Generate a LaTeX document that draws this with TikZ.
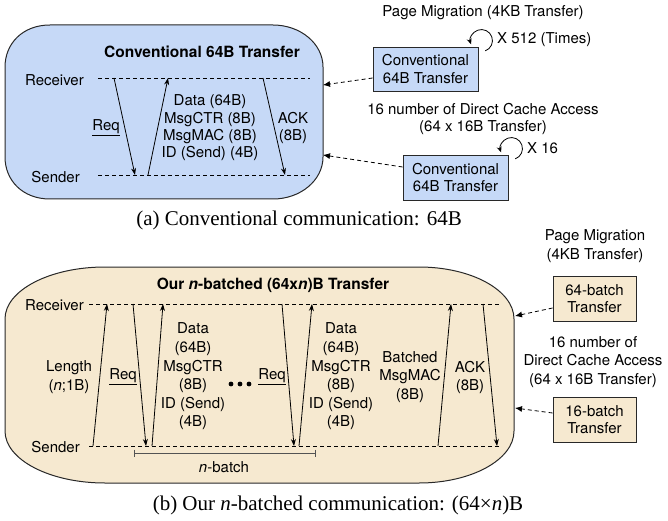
\documentclass[tikz,border=0pt]{standalone}
\usepackage{fontspec}
\setmainfont{Liberation Serif}
\setsansfont{TeX Gyre Heros}
\usetikzlibrary{arrows.meta,calc}

\definecolor{convblue}{RGB}{198,217,247}
\definecolor{batchtan}{RGB}{246,233,208}
\definecolor{edge}{RGB}{40,40,40}

\begin{document}
\begin{tikzpicture}[x=1pt,y=-1pt,
  lbl/.style={font=\sffamily\fontsize{15}{17.4}\selectfont, align=center, inner sep=0pt},
  lblb/.style={font=\sffamily\fontsize{15}{18.6}\selectfont, align=center, inner sep=0pt},
  ttl/.style={font=\sffamily\bfseries\fontsize{15.5}{17.4}\selectfont, inner sep=0pt},
  captext/.style={font=\fontsize{21}{24}\selectfont, inner sep=0pt},
  panel/.style={draw=edge, line width=1pt},
  lifeline/.style={dash pattern=on 4pt off 3pt, line width=0.8pt},
  msg/.style={-{Stealth[length=7pt,width=5pt]}, line width=0.8pt},
  loopmsg/.style={-{Stealth[length=6pt,width=5pt]}, line width=0.8pt},
  refarrow/.style={dash pattern=on 4pt off 3pt, -{Latex[length=7pt,width=6pt]}, line width=0.8pt},
  xferbox/.style={draw=edge, line width=0.9pt, align=center, inner sep=0pt,
    font=\sffamily\fontsize{15}{17.4}\selectfont},
]
\useasboundingbox (0,0) rectangle (668,521);

% ---------------- (a) conventional 64B transfer ----------------
\draw[panel, fill=convblue]
  (50,25) -- (273,25) .. controls (300.6,25) and (323,43.8) .. (323,67)
  -- (323,157) .. controls (323,180.2) and (300.6,199) .. (273,199)
  -- (50,199) .. controls (22.4,199) and (5,180.2) .. (5,157)
  -- (5,67) .. controls (5,43.8) and (22.4,25) .. cycle;

\node[ttl] (titleA) at (202,52) {Conventional 64B Transfer};
\node[lbl, anchor=east] (recvA) at (84,80) {Receiver};
\node[lbl, anchor=east] (sendA) at (80,177) {Sender};

\coordinate (rA0) at (98,78);  \coordinate (rA1) at (310,78);
\coordinate (sA0) at (98,175); \coordinate (sA1) at (310,175);
\draw[lifeline] (rA0) -- (rA1);
\draw[lifeline] (sA0) -- (sA1);

\coordinate (reqAt) at (114,78);  \coordinate (reqAb) at (135,175);
\coordinate (datAb) at (148,175); \coordinate (datAt) at (168,78);
\coordinate (ackAt) at (263,78);  \coordinate (ackAb) at (285,175);
\draw[msg] (reqAt) -- (reqAb);
\draw[msg] (datAb) -- (datAt);
\draw[msg] (ackAt) -- (ackAb);

\node[lbl] (reqA) at (106,128) {\underline{Req}};
\node[lbl] (dataA) at (210,128) {Data (64B)\\MsgCTR (8B)\\MsgMAC (8B)\\ID (Send) (4B)};
\node[lbl] (ackA) at (293,128) {ACK\\(8B)};

% right-hand side of (a)
\node[lbl] (pmA) at (483,13) {Page Migration (4KB Transfer)};
\node[xferbox, fill=convblue, minimum width=105pt, minimum height=44pt] (boxA1) at (425.5,69) {Conventional\\64B Transfer};
\draw[loopmsg] ($(boxA1.north east)+(3,-6)+(70:11)$) arc[start angle=70, end angle=-200, radius=11];
\node[lbl, anchor=west] (x512) at (497,40) {X 512 (Times)};

\node[lbl] (dcaA) at (483,119) {16 number of Direct Cache Access\\(64 x 16B Transfer)};
\node[xferbox, fill=convblue, minimum width=105pt, minimum height=45pt] (boxA2) at (455.5,177.5) {Conventional\\64B Transfer};
\draw[loopmsg] ($(boxA2.north east)+(3,-6)+(70:11)$) arc[start angle=70, end angle=-200, radius=11];
\node[lbl, anchor=west] (x16) at (527,148) {X 16};

\coordinate (inA1) at (323,85);
\coordinate (inA2) at (323,155);
\draw[refarrow] (boxA1.west |- 0,78) -- (inA1);
\draw[refarrow] (boxA2.west |- 0,167) -- (inA2);

\node[captext] (capA) at (299,220) {(a) Conventional communication: 64B};

% ---------------- (b) n-batched transfer ----------------
\draw[panel, fill=batchtan]
  (105,267) -- (419,267) .. controls (471.4,267) and (514,290.3) .. (514,319)
  -- (514,431) .. controls (514,459.7) and (471.4,483) .. (419,483)
  -- (105,483) .. controls (49.8,483) and (5,459.7) .. (5,431)
  -- (5,319) .. controls (5,290.3) and (49.8,267) .. cycle;

\node[ttl] (titleB) at (273,285) {Our \textit{n}-batched (64x\textit{n})B Transfer};
\node[lbl, anchor=east] (recvB) at (84,305) {Receiver};
\node[lbl, anchor=east] (sendB) at (80,447) {Sender};

\coordinate (rB0) at (89,304);  \coordinate (rB1) at (500,304);
\coordinate (sB0) at (89,446);  \coordinate (sB1) at (500,446);
\draw[lifeline] (rB0) -- (rB1);
\draw[lifeline] (sB0) -- (sB1);

\coordinate (lenb) at (93,446);   \coordinate (lent) at (107,304);
\coordinate (rq1t) at (133,304);  \coordinate (rq1b) at (146,446);
\coordinate (dt1b) at (152,446);  \coordinate (dt1t) at (163,304);
\coordinate (rq2t) at (282,304);  \coordinate (rq2b) at (294,446);
\coordinate (dt2b) at (299,446);  \coordinate (dt2t) at (312,304);
\coordinate (macb) at (438,446);  \coordinate (mact) at (451,304);
\coordinate (ackt) at (483,304);  \coordinate (ackb) at (497,446);
\draw[msg] (lenb) -- (lent);
\draw[msg] (rq1t) -- (rq1b);
\draw[msg] (dt1b) -- (dt1t);
\draw[msg] (rq2t) -- (rq2b);
\draw[msg] (dt2b) -- (dt2t);
\draw[msg] (macb) -- (mact);
\draw[msg] (ackt) -- (ackb);

\node[lblb] (lenB) at (69,377) {Length\\(\textit{n};1B)};
\node[lblb] (req1B) at (123,377) {\underline{Req}};
\node[lblb] (data1B) at (193,376.5) {Data\\(64B)\\MsgCTR\\(8B)\\ID (Send)\\(4B)};
\fill (231,384) circle[radius=2.4] (240,384) circle[radius=2.4] (249,384) circle[radius=2.4];
\node[lblb] (req2B) at (272,377) {\underline{Req}};
\node[lblb] (data2B) at (341,376.5) {Data\\(64B)\\MsgCTR\\(8B)\\ID (Send)\\(4B)};
\node[lblb] (macB) at (410,377) {Batched\\MsgMAC\\(8B)};
\node[lblb] (ackB) at (470,377.5) {ACK\\(8B)};

% n-batch span
\coordinate (nb0) at (134,453); \coordinate (nb1) at (315,453);
\draw[line width=0.8pt, edge!80] (nb0) -- (nb1)
  ($(nb0)+(0,-3.5)$) -- ($(nb0)+(0,3.5)$)
  ($(nb1)+(0,-3.5)$) -- ($(nb1)+(0,3.5)$);
\node[lblb] (nbLbl) at (224,467) {\textit{n}-batch};

% right-hand side of (b)
\node[lblb] (pmB) at (595,246) {Page Migration\\(4KB Transfer)};
\node[xferbox, fill=batchtan, minimum width=83pt, minimum height=45pt] (boxB1) at (594.5,298.5) {64-batch\\Transfer};
\node[lblb] (dcaB) at (593,362) {16 number of\\Direct Cache Access\\(64 x 16B Transfer)};
\node[xferbox, fill=batchtan, minimum width=83pt, minimum height=45pt] (boxB2) at (594.5,419.5) {16-batch\\Transfer};

\coordinate (inB1) at (515,316);
\coordinate (inB2) at (515,408);
\draw[refarrow] (boxB1.west |- 0,308) -- (inB1);
\draw[refarrow] (boxB2.west |- 0,413) -- (inB2);

\node[captext] (capB) at (338,505) {(b) Our \textit{n}-batched communication: (64×\textit{n})B};
\end{tikzpicture}
\end{document}
